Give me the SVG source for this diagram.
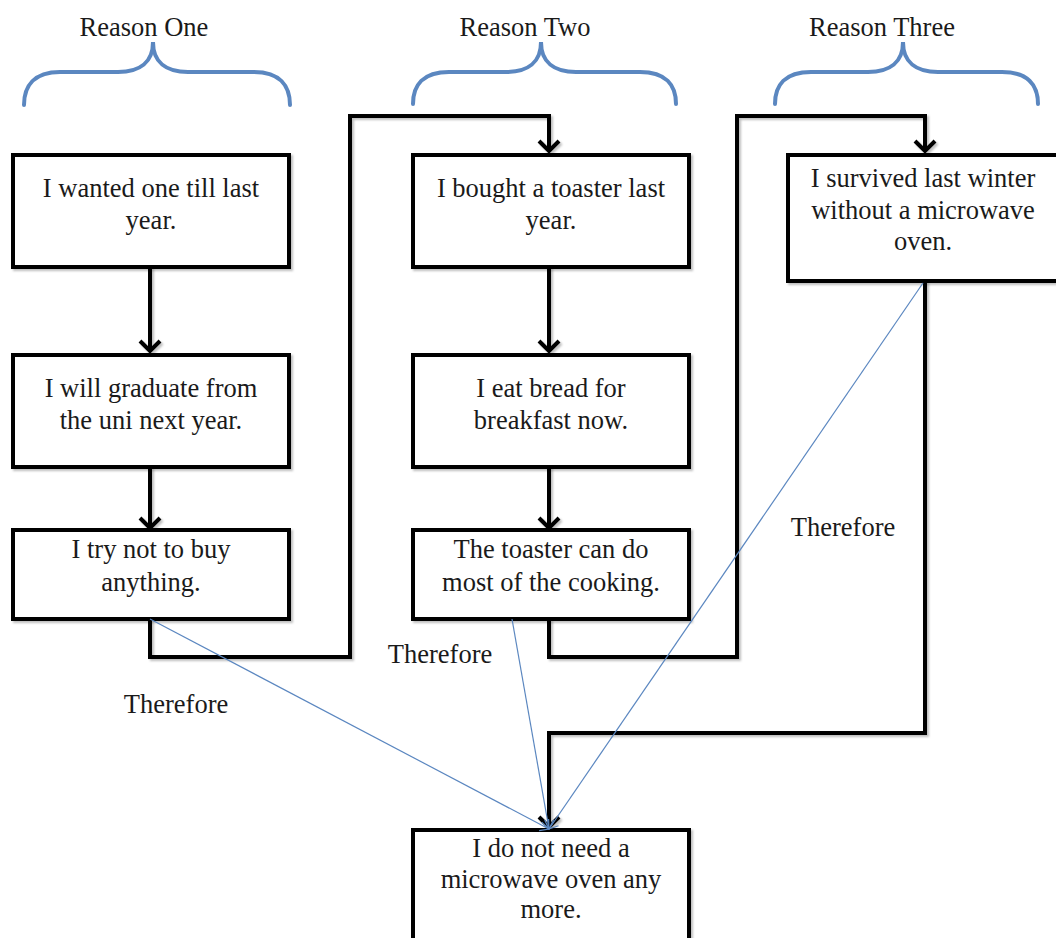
<svg xmlns="http://www.w3.org/2000/svg" width="1056" height="938" viewBox="0 0 1056 938">
<style>
.box{fill:#fff;stroke:#000;stroke-width:4;stroke-linejoin:miter}
.t{font-family:"Liberation Serif","Times New Roman",serif;font-size:26.5px;fill:#1a1a1a;text-anchor:middle}
.conn{fill:none;stroke:#000;stroke-width:4;stroke-linejoin:miter}
.blue{fill:none;stroke:#5b87c0;stroke-width:1.2}
.brace{fill:none;stroke:#5b87c0;stroke-width:4;stroke-linecap:round}
</style>
<defs>
<marker id="ah" markerUnits="userSpaceOnUse" markerWidth="26" markerHeight="26" refX="13" refY="13" orient="auto" viewBox="0 0 26 26">
<path d="M3,3 L13,13 L3,23" fill="none" stroke="#000" stroke-width="4"/>
</marker>
<marker id="bh" markerUnits="userSpaceOnUse" markerWidth="20" markerHeight="20" refX="10" refY="10" orient="auto" viewBox="0 0 20 20">
<path d="M2,4 L10,10 L2,16" fill="none" stroke="#5b87c0" stroke-width="1.2"/>
</marker>
<filter id="sh" x="-10%" y="-10%" width="120%" height="120%">
<feDropShadow dx="2" dy="2" stdDeviation="1.2" flood-color="#000" flood-opacity="0.25"/>
</filter>
</defs>

<g id="braces">
<g id="reason-one">
<path class="brace" d="M24,105 C24,86 34,72 60,72 L118,72 C140,72 153,62 153,42 C153,62 166,72 188,72 L254,72 C280,72 290,86 290,105"/>
<text class="t" x="144" y="36">Reason One</text>
</g>
<g id="reason-two">
<path class="brace" d="M413,104 C413,85 423,72 449,72 L506,72 C528,72 541,62 541,42 C541,62 554,72 576,72 L640,72 C666,72 676,85 676,104"/>
<text class="t" x="525" y="36">Reason Two</text>
</g>
<g id="reason-three">
<path class="brace" d="M775,104 C775,85 785,72 811,72 L868,72 C890,72 903,62 903,42 C903,62 916,72 938,72 L1002,72 C1028,72 1038,85 1038,104"/>
<text class="t" x="882" y="36">Reason Three</text>
</g>
</g>

<g id="connectors" filter="url(#sh)">
<path class="conn" d="M150,267 L150,351" marker-end="url(#ah)"/>
<path class="conn" d="M150,467 L150,528" marker-end="url(#ah)"/>
<path class="conn" d="M150,619 L150,657 L350,657 L350,116 L549,116 L549,151" marker-end="url(#ah)"/>
<path class="conn" d="M549,267 L549,351" marker-end="url(#ah)"/>
<path class="conn" d="M549,467 L549,528" marker-end="url(#ah)"/>
<path class="conn" d="M549,619 L549,657 L737,657 L737,116 L925,116 L925,151" marker-end="url(#ah)"/>
<path class="conn" d="M925,281 L925,733 L549,733 L549,827" marker-end="url(#ah)"/>
</g>

<g id="box-a"><rect class="box" x="13" y="155" width="276" height="112" filter="url(#sh)"/>
<text class="t" x="151" y="197">I wanted one till last</text><text class="t" x="151" y="229">year.</text></g>
<g id="box-b"><rect class="box" x="13" y="355" width="276" height="112" filter="url(#sh)"/>
<text class="t" x="151" y="397">I will graduate from</text><text class="t" x="151" y="429">the uni next year.</text></g>
<g id="box-c"><rect class="box" x="13" y="530" width="276" height="89" filter="url(#sh)"/>
<text class="t" x="151" y="558">I try not to buy</text><text class="t" x="151" y="591">anything.</text></g>
<g id="box-d"><rect class="box" x="413" y="155" width="276" height="112" filter="url(#sh)"/>
<text class="t" x="551" y="197">I bought a toaster last</text><text class="t" x="551" y="229">year.</text></g>
<g id="box-e"><rect class="box" x="413" y="355" width="276" height="112" filter="url(#sh)"/>
<text class="t" x="551" y="397">I eat bread for</text><text class="t" x="551" y="429">breakfast now.</text></g>
<g id="box-f"><rect class="box" x="413" y="530" width="276" height="89" filter="url(#sh)"/>
<text class="t" x="551" y="558">The toaster can do</text><text class="t" x="551" y="591">most of the cooking.</text></g>
<g id="box-g"><rect class="box" x="788" y="155" width="272" height="126" filter="url(#sh)"/>
<text class="t" x="923" y="187">I survived last  winter</text><text class="t" x="923" y="219">without a microwave</text><text class="t" x="923" y="250">oven.</text></g>
<g id="box-h"><rect class="box" x="413" y="830" width="276" height="130" filter="url(#sh)"/>
<text class="t" x="551" y="857">I do not need a</text><text class="t" x="551" y="888">microwave oven any</text><text class="t" x="551" y="918">more.</text></g>

<g id="therefore-links">
<path class="blue" d="M150,619 L549,829" marker-end="url(#bh)"/>
<path class="blue" d="M512,619 L549,829" marker-end="url(#bh)"/>
<path class="blue" d="M923,283 L549,829" marker-end="url(#bh)"/>
<text class="t" x="176" y="713">Therefore</text>
<text class="t" x="440" y="663">Therefore</text>
<text class="t" x="843" y="536">Therefore</text>
</g>
</svg>
